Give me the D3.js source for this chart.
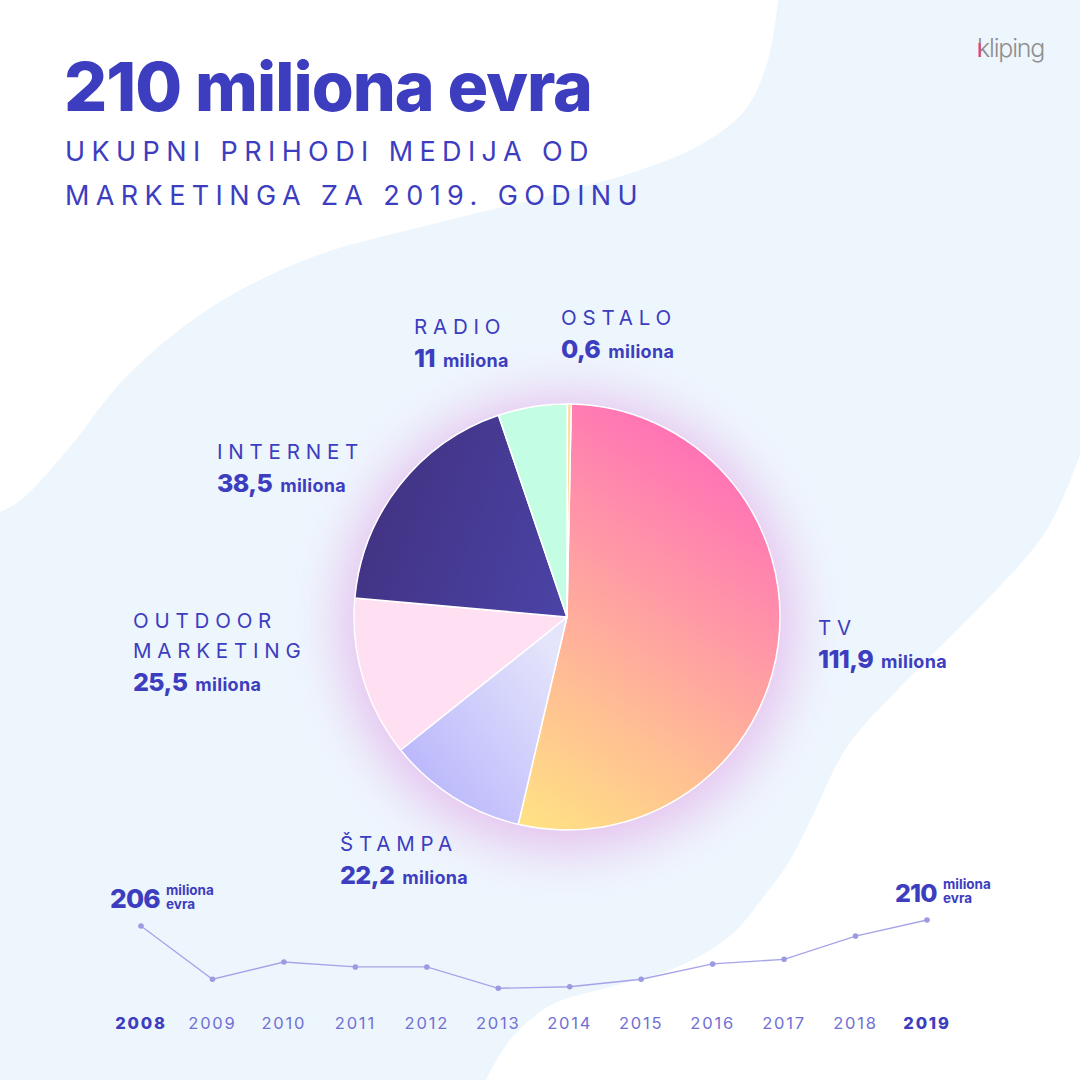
<!DOCTYPE html>
<html><head><meta charset="utf-8">
<script src="https://cdn.jsdelivr.net/npm/d3@7"></script>
<style>
html,body{margin:0;padding:0;background:#fff;}
svg{display:block;}
text{font-family:"Inter","Noto Sans",sans-serif;}
</style></head>
<body>
<svg id="c" width="1080" height="1080"></svg>
<script>
// ---- DATA ----
const categories = ["TV", "ŠTAMPA", "OUTDOOR MARKETING", "INTERNET", "RADIO", "OSTALO"];
const values = [111.9, 22.2, 25.5, 38.5, 11, 0.6];
const valueLabels = ["111,9", "22,2", "25,5", "38,5", "11", "0,6"];
const years = ["2008","2009","2010","2011","2012","2013","2014","2015","2016","2017","2018","2019"];
const totals = [206, 170.5, 182, 178.7, 178.7, 164.5, 165.5, 170.5, 180.7, 183.8, 199.3, 210];
const titleText = "210 miliona evra";
const subtitleLines = ["UKUPNI PRIHODI MEDIJA OD", "MARKETINGA ZA 2019. GODINU"];

const C = "#3d3dbf";
const svg = d3.select("#c");
const defs = svg.append("defs");

// background
svg.append("rect").attr("width",1080).attr("height",1080).attr("fill","#eef6fd");
const bgLine = d3.line().curve(d3.curveCatmullRom.alpha(0.5));
const tl = [[778,0],[768,60],[745,110],[700,145],[640,170],[551,195],[441,222],[310,258],[207,310],[124,379],[69,448],[21,500],[0,512]];
svg.append("path").attr("d", bgLine(tl) + "L0,0Z").attr("fill","#ffffff");
const br = [[1080,455],[1062,500],[1040,540],[978,609],[909,678],[847,747],[813,815],[790,860],[765,895],[730,936],[675,968],[606,988],[551,1005],[510,1040],[486,1080]];
svg.append("path").attr("d", bgLine(br) + "L1080,1080Z").attr("fill","#ffffff");

function fitW(sel, w){ const l = sel.node().getComputedTextLength(); const fs = +sel.attr("font-size"); sel.attr("font-size", fs*w/l); }

// title
const title = svg.append("text").attr("x",64).attr("y",111).attr("fill",C)
  .attr("font-weight",800).attr("font-size",60).attr("letter-spacing",-1).text(titleText);
fitW(title, 526);
subtitleLines.forEach((t,i)=>{
  svg.append("text").attr("x",65).attr("y",161+i*44).attr("fill",C)
    .attr("font-size",27).attr("letter-spacing",6.4).text(t);
});

// logo
svg.append("text").attr("x",977).attr("y",57).attr("fill","#8f8f8f")
  .attr("font-size",25).attr("font-weight",300).attr("letter-spacing",-1.2).text("kliping");
svg.append("rect").attr("x",978.5).attr("y",43).attr("width",2.2).attr("height",14).attr("fill","#e8407f");

// pie
const cx = 567, cy = 617, R = 213;
const glowF = defs.append("filter").attr("id","glow").attr("x","-50%").attr("y","-50%").attr("width","200%").attr("height","200%");
glowF.append("feGaussianBlur").attr("stdDeviation",26);
svg.append("circle").attr("cx",cx).attr("cy",cy+6).attr("r",R+14).attr("fill","#e4b8ec").attr("opacity",0.85).attr("filter","url(#glow)");

function lg(id, x1,y1,x2,y2, stops){
  const g = defs.append("linearGradient").attr("id",id).attr("gradientUnits","userSpaceOnUse")
    .attr("x1",x1).attr("y1",y1).attr("x2",x2).attr("y2",y2);
  stops.forEach(s=>g.append("stop").attr("offset",s[0]).attr("stop-color",s[1]));
  return "url(#"+id+")";
}
// gradient coordinates relative to pie centre
const fills = [
  lg("gTV", -55, 210, 190, -150, [[0,"#ffe482"],[0.35,"#ffbd94"],[0.65,"#ff98a6"],[1,"#ff6eb7"]]),
  lg("gST", -165, 160, -10, 40, [[0,"#b8b5fc"],[1,"#e4e4fb"]]),
  "#ffdff2",
  lg("gIN", -210, -60, 110, 60, [[0,"#423384"],[1,"#4f4dbb"]]),
  "#c3fde3",
  "#ffd99b"
];
const pie = d3.pie().sort(null).startAngle(0.02).endAngle(0.02+2*Math.PI);
const arc = d3.arc().innerRadius(0).outerRadius(R);
const arcs = pie(values);
const g = svg.append("g").attr("transform",`translate(${cx},${cy})`);
g.selectAll("path").data(arcs).join("path")
  .attr("d",arc).attr("fill",(d,i)=>fills[i])
  .attr("stroke","#ffffff").attr("stroke-width",1.5).attr("stroke-linejoin","round");

// labels
const labelPos = [
  {x:818, y:635, lines:["TV"]},
  {x:340, y:851, lines:["ŠTAMPA"]},
  {x:133, y:628, lines:["OUTDOOR","MARKETING"]},
  {x:217, y:459, lines:["INTERNET"]},
  {x:414, y:334, lines:["RADIO"]},
  {x:561, y:325, lines:["OSTALO"]}
];
categories.forEach((c,i)=>{
  const p = labelPos[i];
  p.lines.forEach((l,j)=>{
    svg.append("text").attr("x",p.x).attr("y",p.y+j*30).attr("fill",C)
      .attr("font-size",20.5).attr("letter-spacing",5.8).text(l);
  });
  const t = svg.append("text").attr("x",p.x).attr("y",p.y+(p.lines.length-1)*30+33).attr("fill",C).attr("font-weight",800);
  t.append("tspan").attr("font-size",25).attr("letter-spacing",-0.6).text(valueLabels[i]);
  t.append("tspan").attr("font-size",18).attr("font-weight",700).attr("letter-spacing",0.3).attr("dx",8).text("miliona");
});

// line chart
const x = d3.scalePoint().domain(years).range([141, 927]);
const y = d3.scaleLinear().domain([160, 215]).range([995, 912.5]);
const line = d3.line().x((d,i)=>x(years[i])).y(d=>y(d));
svg.append("path").attr("d", line(totals)).attr("fill","none").attr("stroke","#a6a4e8").attr("stroke-width",1.3);
svg.selectAll("circle.pt").data(totals).join("circle").attr("class","pt")
  .attr("cx",(d,i)=>x(years[i])).attr("cy",d=>y(d)).attr("r",2.8).attr("fill","#9c9ae2");

svg.selectAll("text.yr").data(years).join("text").attr("class","yr")
  .attr("x",d=>x(d)).attr("y",1029).attr("text-anchor","middle")
  .attr("font-size",16.5).attr("letter-spacing",1.8)
  .attr("font-weight",(d,i)=> (i===0||i===years.length-1)?800:400)
  .attr("fill",(d,i)=> (i===0||i===years.length-1)?C:"#7170d4")
  .text(d=>d);

function endLabel(xp, yb, val, targetW){
  const n = svg.append("text").attr("x",xp).attr("y",yb).attr("fill",C).attr("font-weight",800)
    .attr("font-size",27).attr("letter-spacing",-0.8).text(val);
  fitW(n, targetW);
  const x2 = xp + targetW + 6;
  svg.append("text").attr("x",x2).attr("y",yb-13).attr("fill",C).attr("font-weight",700).attr("font-size",13.5).text("miliona");
  svg.append("text").attr("x",x2).attr("y",yb+1).attr("fill",C).attr("font-weight",700).attr("font-size",13.5).text("evra");
}
endLabel(110, 908, String(totals[0]), 50);
endLabel(895, 902, String(totals[totals.length-1]), 42);
</script>
</body></html>
